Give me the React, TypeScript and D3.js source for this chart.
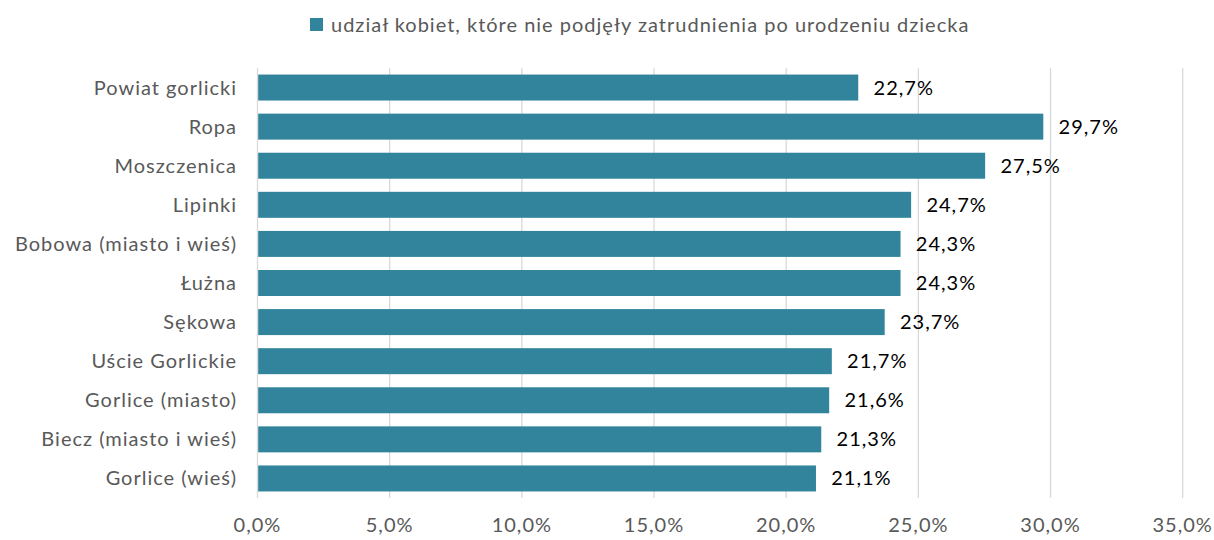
import * as d3 from 'd3'

const categories = [
  'Powiat gorlicki',
  'Ropa',
  'Moszczenica',
  'Lipinki',
  'Bobowa (miasto i wieś)',
  'Łużna',
  'Sękowa',
  'Uście Gorlickie',
  'Gorlice (miasto)',
  'Biecz (miasto i wieś)',
  'Gorlice (wieś)',
]
const values = [22.7, 29.7, 27.5, 24.7, 24.3, 24.3, 23.7, 21.7, 21.6, 21.3, 21.1]
const ticks = [0, 5, 10, 15, 20, 25, 30, 35]
const seriesName = 'udział kobiet, które nie podjęły zatrudnienia po urodzeniu dziecka'

const WIDTH = 1214
const HEIGHT = 540
const BAR = '#31849b'
const FONT = 'Lato, "Open Sans", sans-serif'
const FS = 20
const LS = 1

const fmt = (v: number) => v.toFixed(1).replace('.', ',') + '%'

export default function App() {
  const x = d3.scaleLinear().domain([0, 35]).range([257.5, 1182.7])
  const y = d3
    .scaleBand<string>()
    .domain(categories)
    .range([68, 498])
    .paddingInner(0.335)
    .paddingOuter(0.1675)

  return (
    <svg
      width={WIDTH}
      height={HEIGHT}
      style={{ position: 'absolute', left: 0, top: 0, fontFamily: FONT, letterSpacing: LS }}
    >
      <rect width={WIDTH} height={HEIGHT} fill="#fff" />

      {/* legend */}
      <rect x={310} y={18} width={13} height={13} fill={BAR} />
      <text x={331} y={24.5} dy="0.35em" fontSize={FS} fill="#595959">
        {seriesName}
      </text>

      {/* grid */}
      {ticks.map((t) => (
        <line
          key={t}
          x1={x(t)}
          x2={x(t)}
          y1={68}
          y2={498}
          stroke="#d9d9d9"
          strokeWidth={1.3}
        />
      ))}

      {/* bars */}
      {categories.map((c, i) => (
        <g key={c}>
          <rect
            x={x(0) + 0.7}
            y={y(c)}
            width={x(values[i]) - x(0)}
            height={y.bandwidth()}
            fill={BAR}
          />
          <text
            x={237}
            y={(y(c) ?? 0) + y.bandwidth() / 2}
            dy="0.35em"
            textAnchor="end"
            fontSize={FS}
            fill="#595959"
          >
            {c}
          </text>
          <text
            x={x(values[i]) + 16}
            y={(y(c) ?? 0) + y.bandwidth() / 2}
            dy="0.35em"
            fontSize={FS}
            fill="#000"
          >
            {fmt(values[i])}
          </text>
        </g>
      ))}

      {/* x axis labels */}
      {ticks.map((t) => (
        <text
          key={t}
          x={x(t)}
          y={525}
          dy="0.35em"
          textAnchor="middle"
          fontSize={FS}
          fill="#595959"
        >
          {fmt(t)}
        </text>
      ))}
    </svg>
  )
}
